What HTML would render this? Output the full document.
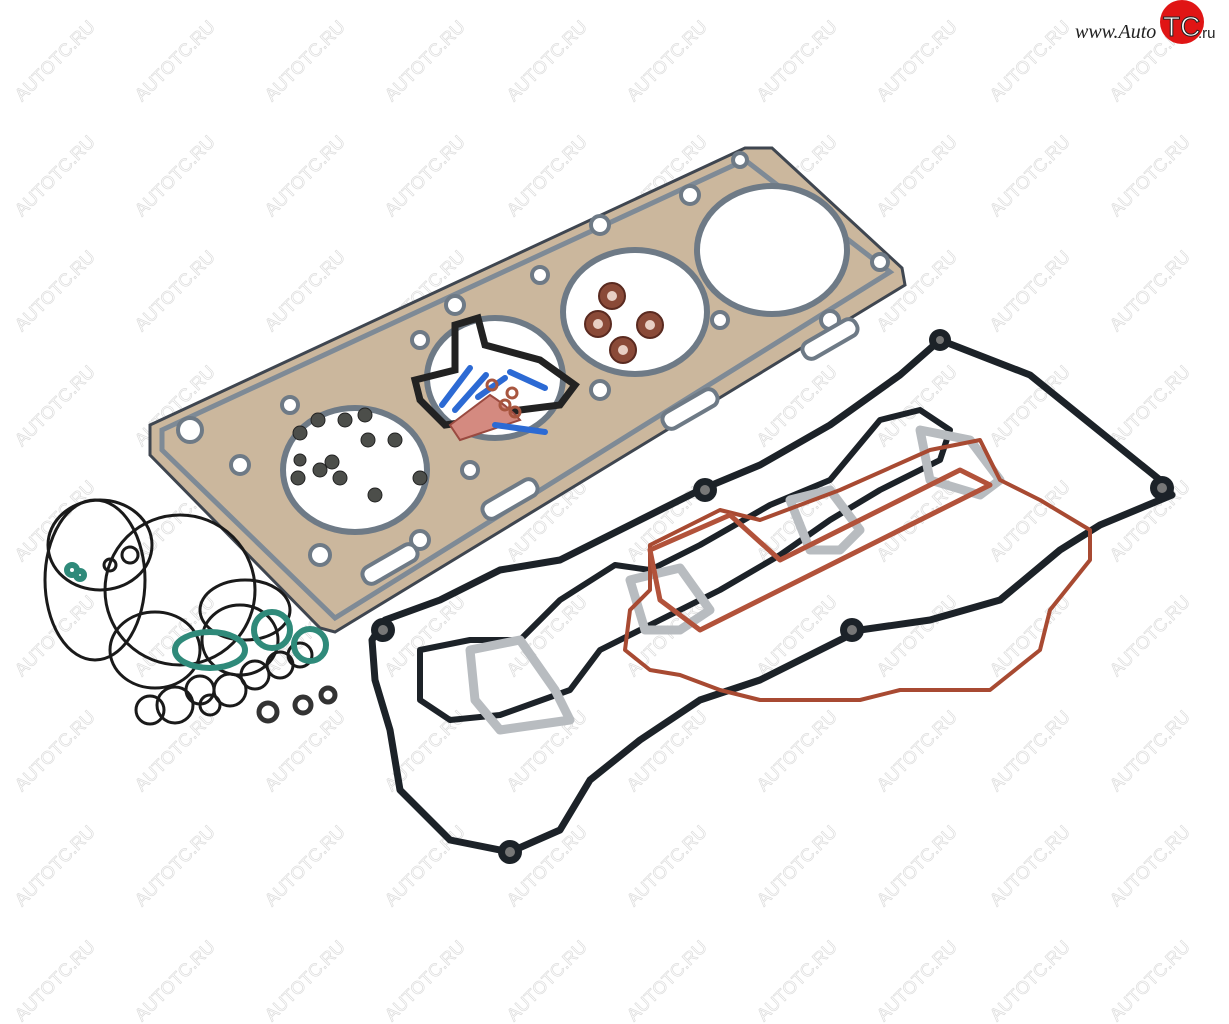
<!DOCTYPE html>
<html><head><meta charset="utf-8"><style>
html,body{margin:0;padding:0;background:#fff;width:1229px;height:1024px;overflow:hidden}
svg{display:block}
.wm{font-family:"Liberation Sans",sans-serif;font-size:18px;fill:#fff;stroke:#dcdcdc;stroke-width:0.7}
</style></head><body>
<svg width="1229" height="1024" viewBox="0 0 1229 1024" xmlns="http://www.w3.org/2000/svg">
<g>
<g id="row">
<text class="wm" transform="translate(22,102) rotate(-45)">AUTOTC.RU</text>
<text class="wm" transform="translate(142,102) rotate(-45)">AUTOTC.RU</text>
<text class="wm" transform="translate(272,102) rotate(-45)">AUTOTC.RU</text>
<text class="wm" transform="translate(392,102) rotate(-45)">AUTOTC.RU</text>
<text class="wm" transform="translate(514,102) rotate(-45)">AUTOTC.RU</text>
<text class="wm" transform="translate(634,102) rotate(-45)">AUTOTC.RU</text>
<text class="wm" transform="translate(764,102) rotate(-45)">AUTOTC.RU</text>
<text class="wm" transform="translate(884,102) rotate(-45)">AUTOTC.RU</text>
<text class="wm" transform="translate(997,102) rotate(-45)">AUTOTC.RU</text>
<text class="wm" transform="translate(1117,102) rotate(-45)">AUTOTC.RU</text>
</g>
<use href="#row" y="115"/><use href="#row" y="230"/><use href="#row" y="345"/><use href="#row" y="460"/><use href="#row" y="575"/><use href="#row" y="690"/><use href="#row" y="805"/><use href="#row" y="920"/>
</g>

<text x="1075" y="38" font-family="Liberation Serif,serif" font-size="20" font-style="italic" fill="#222">www.Auto</text>
<circle cx="1182" cy="22" r="22" fill="#e01515"/>
<text x="1163" y="36" font-family="Liberation Sans,sans-serif" font-size="28" fill="#fff" stroke="#222" stroke-width="1">TC</text>
<text x="1198" y="38" font-family="Liberation Sans,sans-serif" font-size="15" fill="#222">.ru</text>

<path d="M150,425 L745,148 L772,148 L902,268 L905,285 L335,632 L320,628 L150,455 Z" fill="#cbb79d" stroke="#3f4650" stroke-width="3"/>
<path d="M162,430 L745,160 L890,272 L335,618 L162,450 Z" fill="none" stroke="#7e8a96" stroke-width="5"/>
<g fill="#fff" stroke="#6e7a86" stroke-width="6">
<ellipse cx="355" cy="470" rx="72" ry="62"/>
<ellipse cx="495" cy="378" rx="68" ry="60"/>
<ellipse cx="635" cy="312" rx="72" ry="62"/>
<ellipse cx="772" cy="250" rx="75" ry="64"/>
</g>
<g fill="#fff" stroke="#6e7a86" stroke-width="4">
<circle cx="240" cy="465" r="9"/><circle cx="320" cy="555" r="10"/><circle cx="290" cy="405" r="8"/>
<circle cx="420" cy="340" r="8"/><circle cx="455" cy="305" r="9"/><circle cx="540" cy="275" r="8"/>
<circle cx="600" cy="225" r="9"/><circle cx="690" cy="195" r="9"/><circle cx="740" cy="160" r="7"/>
<circle cx="880" cy="262" r="8"/><circle cx="830" cy="320" r="9"/><circle cx="720" cy="320" r="8"/>
<circle cx="600" cy="390" r="9"/><circle cx="470" cy="470" r="8"/><circle cx="420" cy="540" r="9"/>
<circle cx="190" cy="430" r="12"/>
<rect x="480" y="490" width="60" height="18" rx="8" transform="rotate(-30 510 499)"/>
<rect x="660" y="400" width="60" height="18" rx="8" transform="rotate(-30 690 409)"/>
<rect x="800" y="330" width="60" height="18" rx="8" transform="rotate(-30 830 339)"/>
<rect x="360" y="555" width="60" height="18" rx="8" transform="rotate(-30 390 564)"/>
</g>
<g fill="#8a4a38" stroke="#5a2a20" stroke-width="2">
<circle cx="612" cy="296" r="13"/><circle cx="598" cy="324" r="13"/><circle cx="650" cy="325" r="13"/><circle cx="623" cy="350" r="13"/>
</g>
<g fill="#e8cfc4"><circle cx="612" cy="296" r="5"/><circle cx="598" cy="324" r="5"/><circle cx="650" cy="325" r="5"/><circle cx="623" cy="350" r="5"/></g>
<g fill="#4c4e4a" stroke="#222" stroke-width="1">
<circle cx="300" cy="433" r="7"/><circle cx="318" cy="420" r="7"/><circle cx="345" cy="420" r="7"/><circle cx="365" cy="415" r="7"/>
<circle cx="298" cy="478" r="7"/><circle cx="320" cy="470" r="7"/><circle cx="332" cy="462" r="7"/><circle cx="340" cy="478" r="7"/>
<circle cx="375" cy="495" r="7"/><circle cx="395" cy="440" r="7"/><circle cx="368" cy="440" r="7"/><circle cx="420" cy="478" r="7"/><circle cx="300" cy="460" r="6"/>
</g>
<path d="M455,325 L478,318 L485,345 L540,360 L575,385 L560,405 L520,410 L480,420 L445,425 L420,400 L415,380 L455,370 Z" fill="none" stroke="#222" stroke-width="7"/>
<path d="M450,425 Q470,410 490,395 Q510,408 520,420 Q490,430 460,440 Z" fill="#d48a80" stroke="#9a4a40" stroke-width="2"/>
<g stroke="#2c6ad4" stroke-width="6" stroke-linecap="round">
<line x1="442" y1="405" x2="470" y2="368"/><line x1="455" y1="410" x2="486" y2="375"/><line x1="478" y1="397" x2="505" y2="378"/>
<line x1="510" y1="372" x2="545" y2="388"/><line x1="495" y1="425" x2="545" y2="432"/>
</g>
<g fill="none" stroke="#a8563f" stroke-width="3"><circle cx="492" cy="385" r="5"/><circle cx="512" cy="393" r="5"/><circle cx="505" cy="405" r="5"/><circle cx="515" cy="412" r="5"/></g>

<path d="M940,340 L1030,375 L1160,480 L1172,495 L1100,525 L1060,550 L1000,600 L930,620 L860,630 L760,680 L700,700 L640,740 L590,780 L560,830 L510,852 L450,840 L400,790 L390,730 L375,680 L372,640 L385,620 L440,600 L500,570 L560,560 L640,520 L700,490 L760,465 L830,425 L900,375 Z" fill="none" stroke="#1c2228" stroke-width="7" stroke-linejoin="round"/>
<g fill="#1c2228"><circle cx="940" cy="340" r="11"/><circle cx="1162" cy="488" r="12"/><circle cx="852" cy="630" r="12"/><circle cx="510" cy="852" r="12"/><circle cx="383" cy="630" r="12"/><circle cx="705" cy="490" r="12"/></g>
<g fill="#777"><circle cx="940" cy="340" r="4"/><circle cx="1162" cy="488" r="5"/><circle cx="852" cy="630" r="5"/><circle cx="510" cy="852" r="5"/><circle cx="383" cy="630" r="5"/><circle cx="705" cy="490" r="5"/></g>

<path d="M420,650 L470,640 L520,640 L560,600 L615,565 L650,570 L700,545 L770,505 L830,480 L880,420 L920,410 L950,430 L940,460 L880,490 L830,520 L780,555 L720,590 L660,620 L600,650 L570,690 L500,715 L450,720 L420,700 Z" fill="none" stroke="#1c2228" stroke-width="6" stroke-linejoin="round"/>
<g fill="none" stroke="#b8bcc0" stroke-width="9" stroke-linejoin="round">
<path d="M470,650 L520,640 L555,690 L570,720 L500,730 L475,700 Z"/>
<path d="M630,580 L680,568 L710,610 L680,630 L645,630 Z"/>
<path d="M790,500 L830,490 L860,530 L840,550 L810,550 Z"/>
<path d="M920,430 L970,440 L1000,480 L980,495 L930,480 Z"/>
</g>
<path d="M650,545 L720,510 L760,520 L840,490 L930,450 L980,440 L1000,480 L1040,500 L1090,530 L1090,560 L1050,610 L1040,650 L990,690 L900,690 L860,700 L820,700 L760,700 L720,690 L680,675 L650,670 L625,650 L630,610 L650,590 Z" fill="none" stroke="#a84a32" stroke-width="4" stroke-linejoin="round"/>
<path d="M650,550 L730,515 L780,560 L840,530 L900,500 L960,470 L990,485 L900,530 L840,560 L760,600 L700,630 L660,600 Z" fill="none" stroke="#b2523a" stroke-width="5" stroke-linejoin="round"/>

<g fill="none" stroke="#1a1a1a" stroke-width="3">
<ellipse cx="100" cy="545" rx="52" ry="45"/>
<ellipse cx="95" cy="580" rx="50" ry="80"/>
<ellipse cx="180" cy="590" rx="75" ry="75"/>
<ellipse cx="155" cy="650" rx="45" ry="38"/>
<ellipse cx="245" cy="610" rx="45" ry="30"/>
<ellipse cx="240" cy="640" rx="38" ry="35"/>
<circle cx="175" cy="705" r="18"/><circle cx="200" cy="690" r="14"/><circle cx="230" cy="690" r="16"/>
<circle cx="255" cy="675" r="14"/><circle cx="280" cy="665" r="13"/><circle cx="300" cy="655" r="12"/>
<circle cx="150" cy="710" r="14"/><circle cx="210" cy="705" r="10"/><circle cx="130" cy="555" r="8"/>
<circle cx="110" cy="565" r="6"/>
</g>
<g fill="none" stroke="#2f8a7a" stroke-width="6">
<circle cx="272" cy="630" r="18"/><circle cx="310" cy="645" r="16"/><ellipse cx="210" cy="650" rx="35" ry="18"/>
<circle cx="72" cy="570" r="5"/><circle cx="80" cy="575" r="4"/>
</g>
<g fill="none" stroke="#333" stroke-width="5"><circle cx="268" cy="712" r="9"/><circle cx="303" cy="705" r="8"/><circle cx="328" cy="695" r="7"/></g>
</svg>
</body></html>
